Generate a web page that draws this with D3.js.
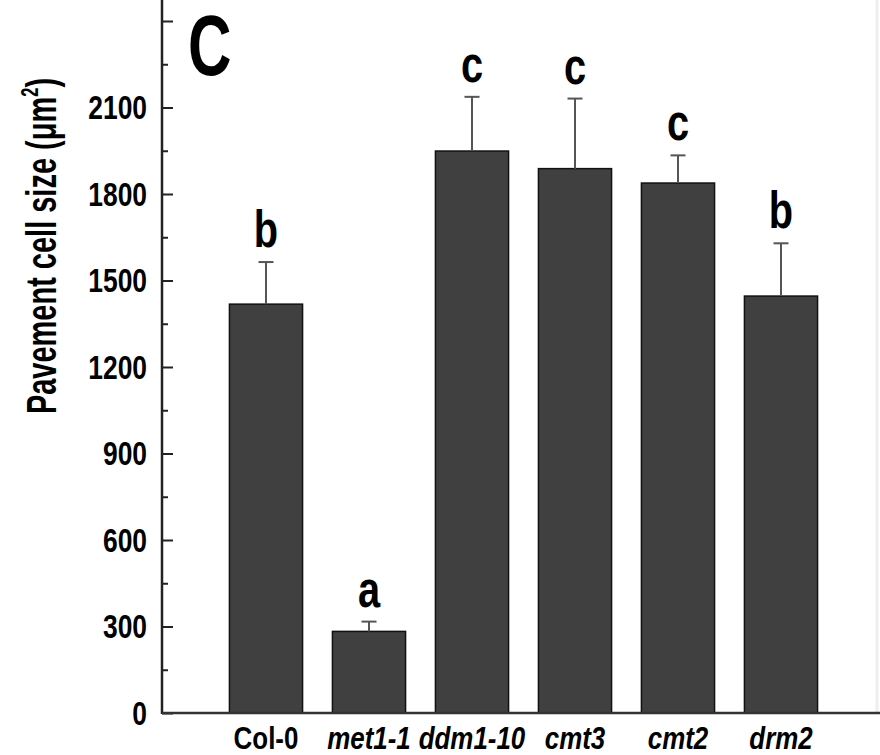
<!DOCTYPE html>
<html>
<head>
<meta charset="utf-8">
<script src="https://cdn.jsdelivr.net/npm/d3@7"></script>
<style>
  body { margin: 0; background: #fff; }
  svg text { font-family: "Liberation Sans", Arial, sans-serif; font-weight: bold; }
</style>
</head>
<body>
<div id="chart"></div>
<script>
// data
const genotypes = ["Col-0", "met1-1", "ddm1-10", "cmt3", "cmt2", "drm2"];
const italic    = [false, true, true, true, true, true];
const cellSize  = [1418, 283, 1949, 1888, 1838, 1446];
const cellErr   = [146, 34, 188, 243, 96, 183];
const letters   = ["b", "a", "c", "c", "c", "b"];
const yTicks    = [0, 300, 600, 900, 1200, 1500, 1800, 2100, 2400];
const yMinor    = [150, 450, 750, 1050, 1350, 1650, 1950, 2250];

const W = 880, H = 755;
const axisX = 162, axisY = 713;
const narrow = 0.8;   // the figure uses a narrow face, squeeze Liberation Sans instead

const svg = d3.select("#chart")
              .append("svg")
              .attr("width", W)
              .attr("height", H);

// scales
const y = d3.scaleLinear()
            .domain([0, 2400])
            .range([axisY, 21]);

const x = d3.scaleBand()
            .domain(genotypes)
            .range([214.5, 832.5])
            .paddingInner(0.29)
            .paddingOuter(0.145);

const cx = g => x(g) + x.bandwidth() / 2;

// faint right frame edge
svg.append("line")
   .attr("x1", 877).attr("x2", 877)
   .attr("y1", 0).attr("y2", axisY)
   .attr("stroke", "#eeeeee")
   .attr("stroke-width", 3);

// bars
svg.append("g")
   .selectAll("rect")
   .data(genotypes)
   .join("rect")
   .attr("x", d => x(d))
   .attr("y", (d, i) => y(cellSize[i]))
   .attr("width", x.bandwidth())
   .attr("height", (d, i) => axisY - y(cellSize[i]))
   .attr("fill", "#404040")
   .attr("stroke", "#111")
   .attr("stroke-width", 1.5);

// error bars (upper only)
const eb = svg.append("g")
              .attr("stroke", "#555")
              .attr("stroke-width", 2);
genotypes.forEach((g, i) => {
  const top = y(cellSize[i] + cellErr[i]);
  eb.append("line")
    .attr("x1", cx(g)).attr("x2", cx(g))
    .attr("y1", y(cellSize[i])).attr("y2", top);
  eb.append("line")
    .attr("x1", cx(g) - 7.5).attr("x2", cx(g) + 7.5)
    .attr("y1", top).attr("y2", top);
});

// significance letters
svg.append("g")
   .selectAll("text")
   .data(genotypes)
   .join("text")
   .attr("transform", (d, i) => `translate(${cx(d)},${y(cellSize[i] + cellErr[i]) - 15}) scale(0.78,1)`)
   .attr("text-anchor", "middle")
   .style("font-size", "51px")
   .attr("fill", "#000")
   .text((d, i) => letters[i]);

// y axis
const yAxis = svg.append("g")
   .attr("transform", `translate(${axisX},0)`)
   .call(d3.axisRight(y).tickValues(yTicks).tickSize(11).tickFormat(d => d === 2400 ? "" : d));
yAxis.select(".domain").remove();
yAxis.selectAll(".tick line").attr("stroke", "#222").attr("stroke-width", 2);
yAxis.selectAll(".tick text")
     .attr("x", null)
     .attr("dy", null)
     .attr("transform", `translate(-15,11) scale(${narrow},1)`)
     .attr("text-anchor", "end")
     .attr("fill", "#000")
     .style("font-size", "33px");

svg.append("g")
   .attr("transform", `translate(${axisX},0)`)
   .call(d3.axisRight(y).tickValues(yMinor).tickSize(6).tickFormat(""))
   .call(g => g.select(".domain").remove())
   .selectAll(".tick line").attr("stroke", "#222").attr("stroke-width", 2);

svg.append("line")
   .attr("x1", axisX).attr("x2", axisX)
   .attr("y1", 0).attr("y2", axisY + 1)
   .attr("stroke", "#222")
   .attr("stroke-width", 2.5);

// x axis
svg.append("line")
   .attr("x1", axisX).attr("x2", W)
   .attr("y1", axisY).attr("y2", axisY)
   .attr("stroke", "#333")
   .attr("stroke-width", 2.5);

svg.append("g")
   .selectAll("text")
   .data(genotypes)
   .join("text")
   .attr("transform", d => `translate(${cx(d)},749) scale(0.81,1)`)
   .attr("text-anchor", "middle")
   .style("font-size", "32px")
   .style("font-style", (d, i) => italic[i] ? "italic" : "normal")
   .attr("fill", "#000")
   .text(d => d);

// y axis title
const yt = svg.append("text")
   .attr("transform", "translate(56,246) rotate(-90) scale(0.69,1)")
   .attr("text-anchor", "middle")
   .style("font-size", "42px")
   .attr("fill", "#000");
yt.append("tspan").text("Pavement cell size (\u03bcm");
yt.append("tspan").attr("dy", "-0.75em").style("font-size", "24px").text("2");
yt.append("tspan").attr("dy", "0.43em").text(")");

// panel letter
svg.append("text")
   .attr("transform", "translate(188,75) scale(0.7,1)")
   .style("font-size", "86px")
   .attr("fill", "#000")
   .text("C");
</script>
</body>
</html>
